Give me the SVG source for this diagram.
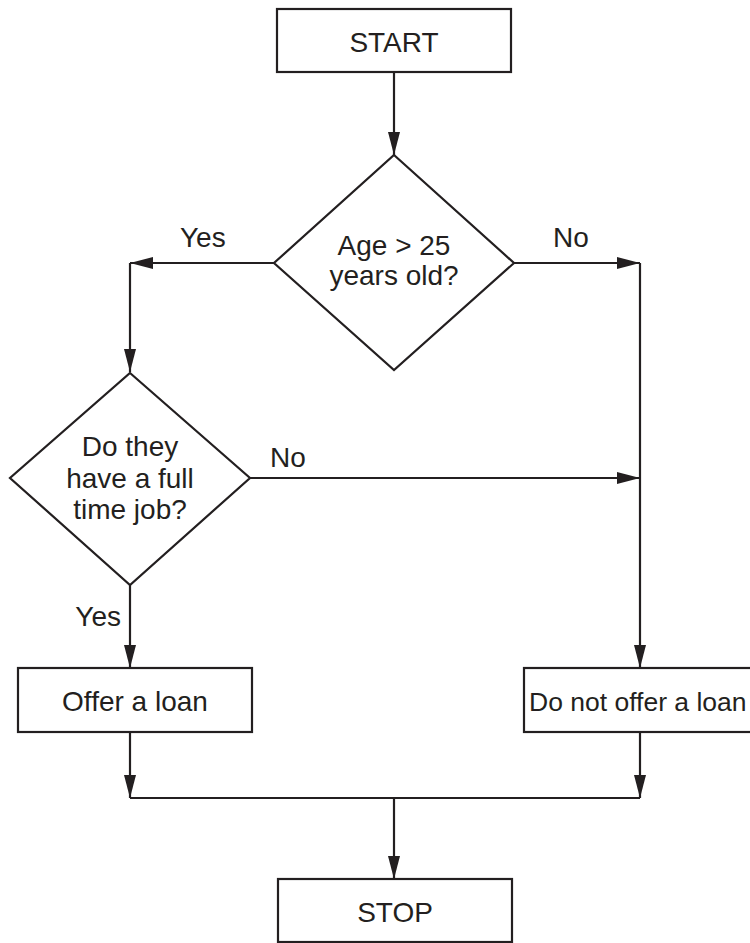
<svg xmlns="http://www.w3.org/2000/svg" width="750" height="943" viewBox="0 0 750 943">
<style>
.shape{fill:#fff;stroke:#231f20;stroke-width:2.2}
.conn{fill:none;stroke:#231f20;stroke-width:2.2}
text{font-family:"Liberation Sans",Arial,sans-serif;font-size:28px;fill:#231f20}
.c{text-anchor:middle}
text.s{font-size:26.5px}
</style>
<defs>
<marker id="arr" markerUnits="userSpaceOnUse" markerWidth="23" markerHeight="12" refX="23" refY="6" orient="auto">
<path d="M0,0 L23,6 L0,12 Z" fill="#231f20"/>
</marker>
</defs>
<rect width="750" height="943" fill="#fff"/>
<g id="connectors">
<path class="conn" d="M394,72 V155" marker-end="url(#arr)"/>
<path class="conn" d="M274,263 H130" marker-end="url(#arr)"/>
<path class="conn" d="M130,263 V372" marker-end="url(#arr)"/>
<path class="conn" d="M514,263 H640" marker-end="url(#arr)"/>
<path class="conn" d="M640,263 V668" marker-end="url(#arr)"/>
<path class="conn" d="M250,478 H640" marker-end="url(#arr)"/>
<path class="conn" d="M130,585 V668" marker-end="url(#arr)"/>
<path class="conn" d="M130,732 V798" marker-end="url(#arr)"/>
<path class="conn" d="M640,732 V798" marker-end="url(#arr)"/>
<path class="conn" d="M130,798 H640"/>
<path class="conn" d="M394,798 V879" marker-end="url(#arr)"/>
<text x="180" y="247">Yes</text>
<text x="553" y="247">No</text>
<text x="270" y="467">No</text>
<text x="121" y="626" text-anchor="end">Yes</text>
</g>
<g id="start">
<rect class="shape" x="277" y="9" width="234" height="63"/>
<text class="c" x="394" y="52">START</text>
</g>
<g id="age">
<path class="shape" d="M394,155 L514,263 L394,370 L274,263 Z"/>
<text class="c" x="394" y="255">Age &gt; 25</text>
<text class="c" x="394" y="285">years old?</text>
</g>
<g id="job">
<path class="shape" d="M130,373 L250,478 L130,585 L10,478 Z"/>
<text class="c" x="130" y="456">Do they</text>
<text class="c" x="130" y="488">have a full</text>
<text class="c" x="130" y="519">time job?</text>
</g>
<g id="offer">
<rect class="shape" x="18" y="668" width="234" height="64"/>
<text class="c" x="135" y="711">Offer a loan</text>
</g>
<g id="nooffer">
<rect class="shape" x="524" y="668" width="240" height="64"/>
<text class="s" x="529" y="711">Do not offer a loan</text>
</g>
<g id="stop">
<rect class="shape" x="278" y="879" width="234" height="63"/>
<text class="c" x="395" y="922">STOP</text>
</g>
</svg>
